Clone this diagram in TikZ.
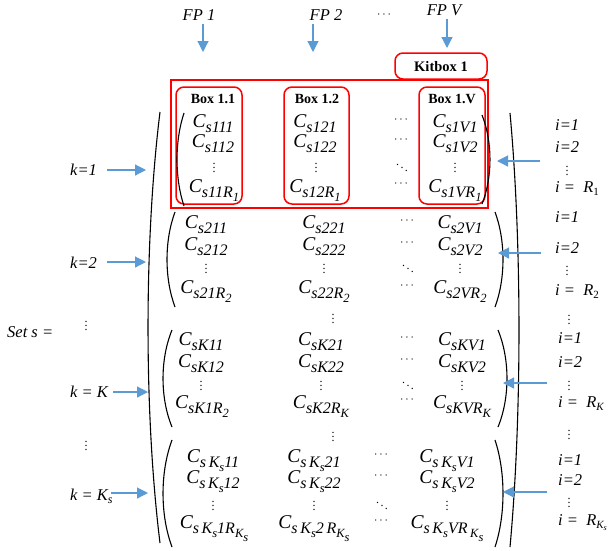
\documentclass[tikz,border=0pt]{standalone}
\usepackage{fontspec}
\setmainfont{Liberation Serif}
\usepackage{amsmath}
\usepackage{tikz}
\usetikzlibrary{arrows.meta}
\definecolor{arrblue}{RGB}{91,155,213}

% one matrix entry C with its long subscript
\newcommand{\centry}[1]{{\fontsize{19.5}{19.5}\selectfont\itshape C\raisebox{-5.5pt}{\fontsize{16}{16}\selectfont #1}}}
\newcommand{\lowsub}[1]{\raisebox{-4pt}{\fontsize{12.5}{12.5}\selectfont #1}}
% parentheses: end x, top, bottom, bulge
\newcommand{\lparen}[4]{\draw[paren] (#1,#2) .. controls (#1-#4*1.33,#2+#3*0.3-#2*0.3) and (#1-#4*1.33,#3-#3*0.3+#2*0.3) .. (#1,#3);}
\newcommand{\rparen}[4]{\draw[paren] (#1,#2) .. controls (#1+#4*1.33,#2+#3*0.3-#2*0.3) and (#1+#4*1.33,#3-#3*0.3+#2*0.3) .. (#1,#3);}

\begin{document}
\begin{tikzpicture}[x=1pt,y=-1pt,
   lab/.style={font=\fontsize{16.5}{16.5}\selectfont\itshape, inner sep=0pt},
   ent/.style={anchor=base, inner sep=0pt},
   dotsn/.style={inner sep=0pt, font=\fontsize{12}{12}\selectfont},
   arr/.style={draw=arrblue, line width=1.2pt, -{Triangle[length=11pt,width=11pt]}},
   redbox/.style={draw=red, line width=1.5pt, rounded corners=8pt},
   paren/.style={line width=1.1pt}]
   \useasboundingbox (0,0) rectangle (613,550);

   % column heads
   \node[lab, anchor=base] (fp1) at (199,20) {FP 1};
   \node[lab, anchor=base] (fp2) at (326,20) {FP 2};
   \node[dotsn] (fpdots) at (385,15) {$\cdots$};
   \node[lab, anchor=base] (fpv) at (444,15) {FP V};
   \coordinate (fp1h) at (203,52);
   \coordinate (fp2h) at (313,52);
   \coordinate (fpvh) at (447,48);
   \draw[arr, shorten <=4pt] (fp1.south -| fp1h) -- (fp1h);
   \draw[arr, shorten <=4pt] (fp2.south -| fp2h) -- (fp2h);
   \draw[arr, shorten <=4pt] (fpv.south -| fpvh) -- (fpvh);

   % kitbox and boxes
   \draw[redbox] (395,53) rectangle (487,79);
   \node[font=\fontsize{14.5}{14.5}\selectfont\bfseries] (kit) at (441,67) {Kitbox 1};
   \draw[red, line width=1.5pt] (171,80) rectangle (488,208);
   \draw[redbox] (176,87) rectangle (242,204);
   \draw[redbox] (284,87) rectangle (349,204);
   \draw[redbox] (419,87) rectangle (485,204);
   \node[font=\fontsize{14}{14}\selectfont\bfseries] (b11) at (213,99) {Box 1.1};
   \node[font=\fontsize{14}{14}\selectfont\bfseries] (b12) at (317,99) {Box 1.2};
   \node[font=\fontsize{14}{14}\selectfont\bfseries] (b1v) at (452,99) {Box 1.V};

   % k = 1
   \node[ent] (c111) at (213,127) {\centry{s111}};
   \node[ent] (c121) at (315,127) {\centry{s121}};
   \node[dotsn] (d11) at (402,120) {$\cdots$};
   \node[ent] (c1v1) at (455,127) {\centry{s1V1}};
   \node[ent] (c112) at (213,147) {\centry{s112}};
   \node[ent] (c122) at (315,147) {\centry{s122}};
   \node[dotsn] (d12) at (402,140) {$\cdots$};
   \node[ent] (c1v2) at (455,147) {\centry{s1V2}};
   \node[dotsn] (v11) at (214,165) {$\vdots$};
   \node[dotsn] (v12) at (316,165) {$\vdots$};
   \node[dotsn] (v13) at (402,165) {$\ddots$};
   \node[dotsn] (v14) at (455,165) {$\vdots$};
   \node[ent] (c11r) at (214,192) {\centry{s11R\lowsub{1}}};
   \node[ent] (c12r) at (315,192) {\centry{s12R\lowsub{1}}};
   \node[dotsn] (d13) at (402,184) {$\cdots$};
   \node[ent] (c1vr) at (455,192) {\centry{s1VR\lowsub{1}}};
   \lparen{184}{113}{206}{7}
   \rparen{482}{115}{204}{8}

   % k = 2
   \node[ent] (c211) at (206,228) {\centry{s211}};
   \node[ent] (c221) at (324,228) {\centry{s221}};
   \node[dotsn] (d21) at (408,221) {$\cdots$};
   \node[ent] (c2v1) at (460,228) {\centry{s2V1}};
   \node[ent] (c212) at (206,250) {\centry{s212}};
   \node[ent] (c222) at (324,250) {\centry{s222}};
   \node[dotsn] (d22) at (408,243) {$\cdots$};
   \node[ent] (c2v2) at (460,250) {\centry{s2V2}};
   \node[dotsn] (v21) at (206,266) {$\vdots$};
   \node[dotsn] (v22) at (324,266) {$\vdots$};
   \node[dotsn] (v23) at (408,266) {$\ddots$};
   \node[dotsn] (v24) at (460,266) {$\vdots$};
   \node[ent] (c21r) at (206,293) {\centry{s21R\lowsub{2}}};
   \node[ent] (c22r) at (324,293) {\centry{s22R\lowsub{2}}};
   \node[dotsn] (d23) at (408,286) {$\cdots$};
   \node[ent] (c2vr) at (460,293) {\centry{s2VR\lowsub{2}}};
   \lparen{175}{212}{307}{8}
   \rparen{495}{212}{307}{8}

   \node[dotsn] (vm1) at (333,316) {$\vdots$};

   % k = K
   \node[ent] (ck11) at (201,345) {\centry{sK11}};
   \node[ent] (ck21) at (321,345) {\centry{sK21}};
   \node[dotsn] (dk1) at (408,338) {$\cdots$};
   \node[ent] (ckv1) at (462,345) {\centry{sKV1}};
   \node[ent] (ck12) at (201,367) {\centry{sK12}};
   \node[ent] (ck22) at (321,367) {\centry{sK22}};
   \node[dotsn] (dk2) at (408,360) {$\cdots$};
   \node[ent] (ckv2) at (462,367) {\centry{sKV2}};
   \node[dotsn] (vk1) at (201,383) {$\vdots$};
   \node[dotsn] (vk2) at (321,383) {$\vdots$};
   \node[dotsn] (vk3) at (408,383) {$\ddots$};
   \node[dotsn] (vk4) at (462,383) {$\vdots$};
   \node[ent] (ck1r) at (202,408) {\centry{sK1R\lowsub{2}}};
   \node[ent] (ck2r) at (321,408) {\centry{sK2R\lowsub{K}}};
   \node[dotsn] (dk3) at (408,400) {$\cdots$};
   \node[ent] (ckvr) at (462,408) {\centry{sKVR\lowsub{K}}};
   \lparen{172}{330}{427}{9}
   \rparen{498}{330}{427}{9}

   \node[dotsn] (vm2) at (333,434) {$\vdots$};

   % k = K_s
   \node[ent] (cs11) at (213,462) {\centry{s\,K\lowsub{s}11}};
   \node[ent] (cs21) at (314,462) {\centry{s\,K\lowsub{s}21}};
   \node[dotsn] (ds1) at (382,455) {$\cdots$};
   \node[ent] (csv1) at (447,462) {\centry{s\,K\lowsub{s}V1}};
   \node[ent] (cs12) at (213,483) {\centry{s\,K\lowsub{s}12}};
   \node[ent] (cs22) at (314,483) {\centry{s\,K\lowsub{s}22}};
   \node[dotsn] (ds2) at (382,476) {$\cdots$};
   \node[ent] (csv2) at (447,483) {\centry{s\,K\lowsub{s}V2}};
   \node[dotsn] (vs1) at (213,503) {$\vdots$};
   \node[dotsn] (vs2) at (314,503) {$\vdots$};
   \node[dotsn] (vs3) at (382,503) {$\ddots$};
   \node[dotsn] (vs4) at (447,503) {$\vdots$};
   \node[ent] (cs1r) at (214,528) {\centry{s\,K\lowsub{s}1R\lowsub{K\lowsub{s}}}};
   \node[ent] (cs2r) at (314,528) {\centry{s\,K\lowsub{s}2\,R\lowsub{K\lowsub{s}}}};
   \node[dotsn] (ds3) at (382,521) {$\cdots$};
   \node[ent] (csvr) at (447,528) {\centry{s\,K\lowsub{s}VR\,\lowsub{K\lowsub{s}}}};
   \lparen{172}{440}{547}{9}
   \rparen{495}{440}{547}{8}

   % outer parentheses of the set
   \lparen{160}{112}{543}{12}
   \rparen{510}{113}{547}{9}

   % left labels
   \node[lab, anchor=base west] (k1) at (70,175) {k=1};
   \node[lab, anchor=base west] (k2) at (70,268) {k=2};
   \node[lab, anchor=base west] (set) at (7,337) {Set s =};
   \node[dotsn] (vl1) at (86,323) {$\vdots$};
   \node[lab, anchor=base west] (kk) at (70,397) {k = K};
   \node[dotsn] (vl2) at (86,443) {$\vdots$};
   \node[lab, anchor=base west] (ks) at (70,500) {k = K\raisebox{-3pt}{\fontsize{12}{12}\selectfont s}};
   \coordinate (k1h) at (146,170);
   \coordinate (k2h) at (146,262);
   \coordinate (kkh) at (148,392);
   \coordinate (ksh) at (148,493);
   \draw[arr] (k1.east |- k1h) ++(10,0) -- (k1h);
   \draw[arr] (k2.east |- k2h) ++(10,0) -- (k2h);
   \draw[arr] (kk.east |- kkh) ++(5,0) -- (kkh);
   \draw[arr] (ks.east |- ksh) ++(-2,0) -- (ksh);

   % right labels
   \node[lab, anchor=base west] (i11) at (555,130) {i=1};
   \node[lab, anchor=base west] (i12) at (555,152) {i=2};
   \node[dotsn] (vi1) at (567,168) {$\vdots$};
   \node[lab, anchor=base west] (i1r) at (555,192) {i =\ \ R\raisebox{-3pt}{\upshape\fontsize{11}{11}\selectfont 1}};
   \node[lab, anchor=base west] (i21) at (555,222) {i=1};
   \node[lab, anchor=base west] (i22) at (555,253) {i=2};
   \node[dotsn] (vi2) at (567,268) {$\vdots$};
   \node[lab, anchor=base west] (i2r) at (555,295) {i =\ \ R\raisebox{-3pt}{\upshape\fontsize{11}{11}\selectfont 2}};
   \node[dotsn] (vi3) at (569,317) {$\vdots$};
   \node[lab, anchor=base west] (ik1) at (558,343) {i=1};
   \node[lab, anchor=base west] (ik2) at (558,367) {i=2};
   \node[dotsn] (vi4) at (569,383) {$\vdots$};
   \node[lab, anchor=base west] (ikr) at (558,407) {i =\ \ R\raisebox{-3pt}{\fontsize{11}{11}\selectfont K}};
   \node[dotsn] (vi5) at (569,432) {$\vdots$};
   \node[lab, anchor=base west] (is1) at (558,465) {i=1};
   \node[lab, anchor=base west] (is2) at (558,485) {i=2};
   \node[dotsn] (vi6) at (569,500) {$\vdots$};
   \node[lab, anchor=base west] (isr) at (558,525) {i =\ \ R\raisebox{-3pt}{\fontsize{11}{11}\selectfont K\raisebox{-2pt}{\fontsize{8}{8}\selectfont s}}};
   \coordinate (i1h) at (497,161);
   \coordinate (i2h) at (498,253);
   \coordinate (ikh) at (503,383);
   \coordinate (ish) at (503,492);
   \draw[arr] (vi1.west |- i1h) ++(-25,0) -- (i1h);
   \draw[arr] (vi2.west |- i2h) ++(-24,0) -- (i2h);
   \draw[arr] (vi4.west |- ikh) ++(-20,0) -- (ikh);
   \draw[arr] (vi6.west |- ish) ++(-20,0) -- (ish);
\end{tikzpicture}
\end{document}
